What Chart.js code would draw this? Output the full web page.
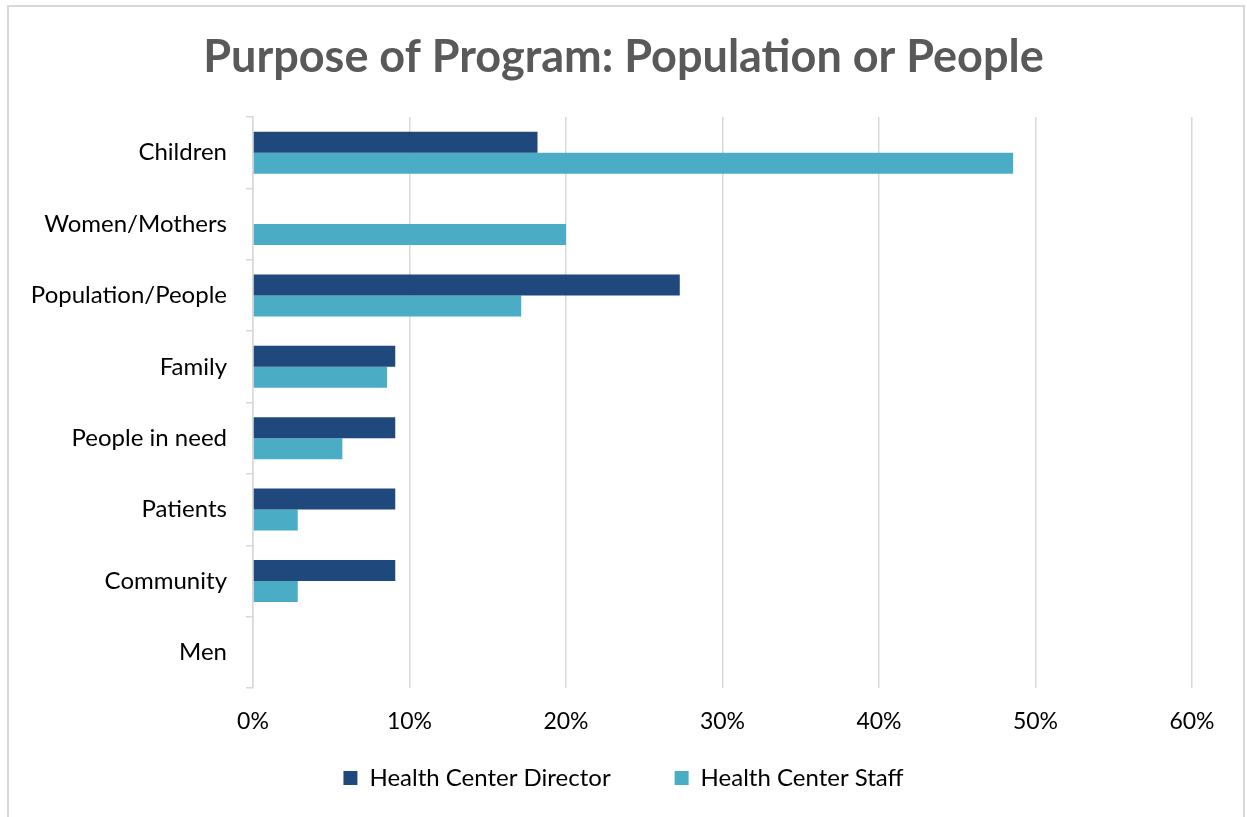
<!DOCTYPE html>
<html>
<head>
<meta charset="utf-8">
<script src="https://cdn.jsdelivr.net/npm/chart.js@4.4.1/dist/chart.umd.min.js"></script>
<style>
  html, body { margin: 0; padding: 0; background: #fff; }
  body { width: 1247px; height: 817px; position: relative; overflow: hidden; }
  #frame { position: absolute; left: 7px; top: 5px; width: 1238px; height: 900px; border: 2px solid #d9d9d9; box-sizing: border-box; }
  #c { position: absolute; left: 0; top: 0; }
</style>
</head>
<body>
<div id="frame"></div>
<canvas id="c" width="1247" height="817"></canvas>
<script>
const categories = ['Children', 'Women/Mothers', 'Population/People', 'Family', 'People in need', 'Patients', 'Community', 'Men'];
const directorValues = [0.1818, 0, 0.2727, 0.0909, 0.0909, 0.0909, 0.0909, 0];
const staffValues = [0.4857, 0.2000, 0.1714, 0.0857, 0.0571, 0.0286, 0.0286, 0];
const seriesNames = ['Health Center Director', 'Health Center Staff'];
const xTickMin = 0, xTickMax = 0.6, xTickStep = 0.1;
const titleText = 'Purpose of Program: Population or People';

const FONT = 'Lato';
const LEGEND_PAD = 64;
const LEGEND_SHIFT = 56;

// moves the legend box up so its items sit just below the x-axis labels
const shiftLegend = {
  id: 'shiftLegend',
  afterLayout(chart) {
    const l = chart.legend;
    if (l) { l.top -= LEGEND_SHIFT; l.bottom -= LEGEND_SHIFT; }
  }
};

new Chart(document.getElementById('c'), {
  type: 'bar',
  data: {
    labels: categories,
    datasets: [
      { label: seriesNames[0], data: directorValues, backgroundColor: '#1f497d', borderWidth: 0 },
      { label: seriesNames[1], data: staffValues, backgroundColor: '#4bacc6', borderWidth: 0 }
    ]
  },
  plugins: [shiftLegend],
  options: {
    indexAxis: 'y',
    responsive: false,
    animation: false,
    devicePixelRatio: 1,
    datasets: { bar: { categoryPercentage: 0.59, barPercentage: 1.0 } },
    layout: { padding: { left: 0, right: 0, top: 0, bottom: -39 } },
    plugins: {
      title: {
        display: true,
        text: titleText,
        color: '#595959',
        font: { family: FONT, size: 45, weight: 'bold' },
        padding: { top: 30, bottom: 33 }
      },
      legend: {
        position: 'bottom',
        labels: {
          boxWidth: 14, boxHeight: 14, padding: LEGEND_PAD,
          color: '#000', font: { family: FONT, size: 24 }
        }
      },
      tooltip: { enabled: false }
    },
    scales: {
      x: {
        min: xTickMin, max: xTickMax,
        ticks: {
          stepSize: xTickStep,
          padding: 20,
          color: '#000',
          font: { family: FONT, size: 23 },
          callback: v => Math.round(v * 100) + '%'
        },
        grid: { color: '#d9d9d9', lineWidth: 1.5, drawTicks: false },
        border: { display: false },
        afterFit: s => { s.height = 70; }
      },
      y: {
        ticks: { color: '#000', padding: 19, font: { family: FONT, size: 24 } },
        grid: { drawOnChartArea: false, drawTicks: true, tickLength: 7, color: '#d9d9d9', lineWidth: 1.5, offset: true },
        border: { color: '#d9d9d9', width: 1.5 },
        afterFit: s => { s.width = 253; }
      },
      yRight: {
        type: 'category',
        position: 'right',
        grid: { display: false },
        border: { display: false },
        ticks: { display: false },
        afterFit: s => { s.width = 55; }
      }
    }
  }
});
</script>
</body>
</html>
